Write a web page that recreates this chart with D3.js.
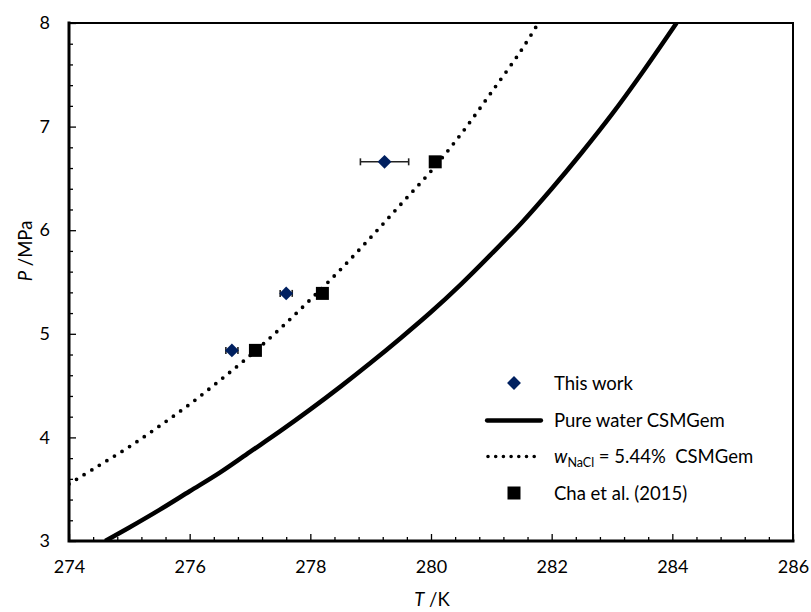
<!DOCTYPE html>
<html>
<head>
<meta charset="utf-8">
<script src="https://cdn.jsdelivr.net/npm/d3@7"></script>
<style>
  html, body { margin: 0; padding: 0; background: #fff; }
  svg { display: block; font-family: Lato, "Open Sans", sans-serif; }
</style>
</head>
<body>
<svg id="chart" width="811" height="612"></svg>
<script>
// Hydrate equilibrium: temperature (K) vs pressure (MPa)
const xTicks = [274, 276, 278, 280, 282, 284, 286];
const yTicks = [3, 4, 5, 6, 7, 8];

// Measured points (this work), with temperature uncertainty
const thisWorkT = [276.70, 277.60, 279.23];
const thisWorkP = [4.84, 5.39, 6.66];
const thisWorkErrT = [0.10, 0.10, 0.40];

// Literature points, Cha et al. (2015)
const chaT = [277.09, 278.20, 280.07];
const chaP = [4.84, 5.39, 6.66];

// CSMGem prediction, pure water
const pureT = [274.6, 275.0, 275.5, 276.0, 276.5, 277.0, 277.5, 278.0, 278.5, 279.0,
               279.5, 280.0, 280.5, 281.0, 281.5, 282.0, 282.5, 283.0, 283.5, 284.07];
const pureP = [3.00, 3.13, 3.30, 3.48, 3.66, 3.86, 4.06, 4.27, 4.49, 4.72,
               4.96, 5.21, 5.48, 5.77, 6.07, 6.40, 6.75, 7.12, 7.52, 8.00];

// CSMGem prediction, 5.44 wt% NaCl
const saltT = [274.0, 274.5, 275.0, 275.5, 276.0, 276.5, 277.0, 277.5, 278.0, 278.5,
               279.0, 279.5, 280.0, 280.5, 281.0, 281.5, 281.78];
const saltP = [3.55, 3.73, 3.91, 4.11, 4.32, 4.55, 4.79, 5.05, 5.33, 5.62,
               5.93, 6.25, 6.57, 6.93, 7.33, 7.74, 8.00];

const legendLabels = ["This work", "Pure water CSMGem", "= 5.44%  CSMGem", "Cha et al. (2015)"];

const svg = d3.select("#chart");
const x = d3.scaleLinear().domain([274, 286]).range([69, 793]);
const y = d3.scaleLinear().domain([3, 8]).range([541, 23]);

svg.append("defs").append("clipPath").attr("id", "plotClip")
  .append("rect")
  .attr("x", x(274)).attr("y", y(8))
  .attr("width", x(286) - x(274)).attr("height", y(3) - y(8));

// minor ticks
const xMinor = d3.range(274, 286.001, 0.4).filter(v => Math.abs(v - Math.round(v / 2) * 2) > 1e-6);
const yMinor = d3.range(3, 8.001, 0.2).filter(v => Math.abs(v - Math.round(v)) > 1e-6);

const gxMinor = svg.append("g").attr("transform", `translate(0,${y(3)})`)
  .call(d3.axisBottom(x).tickValues(xMinor).tickSize(-4).tickFormat(""));
gxMinor.select(".domain").remove();
const gyMinor = svg.append("g").attr("transform", `translate(${x(274)},0)`)
  .call(d3.axisLeft(y).tickValues(yMinor).tickSize(-4).tickFormat(""));
gyMinor.select(".domain").remove();

// major ticks with labels
const gx = svg.append("g").attr("transform", `translate(0,${y(3)})`)
  .call(d3.axisBottom(x).tickValues(xTicks).tickSize(-7).tickPadding(19).tickFormat(d3.format("d")));
gx.select(".domain").remove();
gx.selectAll("text").attr("font-size", 18).attr("fill", "#000").attr("font-family", "Lato, sans-serif");

const gy = svg.append("g").attr("transform", `translate(${x(274)},0)`)
  .call(d3.axisLeft(y).tickValues(yTicks).tickSize(-7).tickPadding(19).tickFormat(d3.format("d")));
gy.select(".domain").remove();
gy.selectAll("text").attr("font-size", 18).attr("fill", "#000").attr("font-family", "Lato, sans-serif");

svg.selectAll(".tick line").attr("stroke", "#000").attr("stroke-width", 1.3);

// frame: top and right border, then heavier left and bottom axes
svg.append("rect")
  .attr("x", x(274)).attr("y", y(8))
  .attr("width", x(286) - x(274)).attr("height", y(3) - y(8))
  .attr("fill", "none").attr("stroke", "#000").attr("stroke-width", 2);
svg.append("path")
  .attr("d", `M${x(274)},${y(8)}V${y(3)}H${x(286)}`)
  .attr("fill", "none").attr("stroke", "#000").attr("stroke-width", 3)
  .attr("stroke-linecap", "square");

// model curves
const plot = svg.append("g").attr("clip-path", "url(#plotClip)");
const line = d3.line().x(d => x(d[0])).y(d => y(d[1])).curve(d3.curveCatmullRom.alpha(0.5));

plot.append("path")
  .datum(d3.zip(pureT, pureP))
  .attr("d", line)
  .attr("fill", "none").attr("stroke", "#000").attr("stroke-width", 4.5);

plot.append("path")
  .datum(d3.zip(saltT, saltP))
  .attr("d", line)
  .attr("fill", "none").attr("stroke", "#000").attr("stroke-width", 3.8)
  .attr("stroke-linecap", "round").attr("stroke-dasharray", "0 8.9");

// error bars for this work
const errG = svg.append("g").attr("stroke", "#222").attr("stroke-width", 1.6);
thisWorkT.forEach((t, i) => {
  const p = thisWorkP[i], e = thisWorkErrT[i];
  errG.append("line").attr("x1", x(t - e)).attr("x2", x(t + e)).attr("y1", y(p)).attr("y2", y(p));
  errG.append("line").attr("x1", x(t - e)).attr("x2", x(t - e)).attr("y1", y(p) - 3.5).attr("y2", y(p) + 3.5);
  errG.append("line").attr("x1", x(t + e)).attr("x2", x(t + e)).attr("y1", y(p) - 3.5).attr("y2", y(p) + 3.5);
});

const diamond = d3.symbol().type(d3.symbolSquare).size(96);
const square = d3.symbol().type(d3.symbolSquare).size(169);

svg.append("g").selectAll("path")
  .data(d3.zip(thisWorkT, thisWorkP))
  .join("path")
  .attr("d", diamond)
  .attr("transform", d => `translate(${x(d[0])},${y(d[1])}) rotate(45)`)
  .attr("fill", "#002060");

svg.append("g").selectAll("path")
  .data(d3.zip(chaT, chaP))
  .join("path")
  .attr("d", square)
  .attr("transform", d => `translate(${x(d[0])},${y(d[1])})`)
  .attr("fill", "#000");

// legend
const lg = svg.append("g");
const rowY = [383, 420.5, 456.5, 493];
const textX = 554;
lg.append("path").attr("d", diamond).attr("transform", `translate(514,${rowY[0]}) rotate(45)`).attr("fill", "#002060");
lg.append("line").attr("x1", 487).attr("x2", 541).attr("y1", rowY[1]).attr("y2", rowY[1])
  .attr("stroke", "#000").attr("stroke-width", 4.3).attr("stroke-linecap", "round");
lg.append("line").attr("x1", 488).attr("x2", 535).attr("y1", rowY[2]).attr("y2", rowY[2])
  .attr("stroke", "#000").attr("stroke-width", 3.6).attr("stroke-linecap", "round").attr("stroke-dasharray", "0 7.7");
lg.append("path").attr("d", square).attr("transform", `translate(514,${rowY[3]})`).attr("fill", "#000");

const lt = lg.append("g").attr("font-size", 18.5).attr("fill", "#000");
lt.append("text").attr("x", textX).attr("y", rowY[0] + 6.5).text(legendLabels[0]);
lt.append("text").attr("x", textX).attr("y", rowY[1] + 6.5).text(legendLabels[1]);
const wt = lt.append("text").attr("x", textX).attr("y", rowY[2] + 6.5).attr("xml:space", "preserve");
wt.append("tspan").attr("font-style", "italic").text("w");
wt.append("tspan").attr("font-size", 12.5).attr("dy", 4).text("NaCl");
wt.append("tspan").attr("dy", -4).text(" " + legendLabels[2]);
lt.append("text").attr("x", textX).attr("y", rowY[3] + 6.5).text(legendLabels[3]);

// axis titles
const xt = svg.append("text").attr("x", 432).attr("y", 606).attr("text-anchor", "middle").attr("font-size", 18.5);
xt.append("tspan").attr("font-style", "italic").text("T");
xt.append("tspan").text(" /K");

const yt = svg.append("text").attr("transform", "translate(32,251) rotate(-90)")
  .attr("text-anchor", "middle").attr("font-size", 18.5);
yt.append("tspan").attr("font-style", "italic").text("P");
yt.append("tspan").text(" /MPa");
</script>
</body>
</html>
